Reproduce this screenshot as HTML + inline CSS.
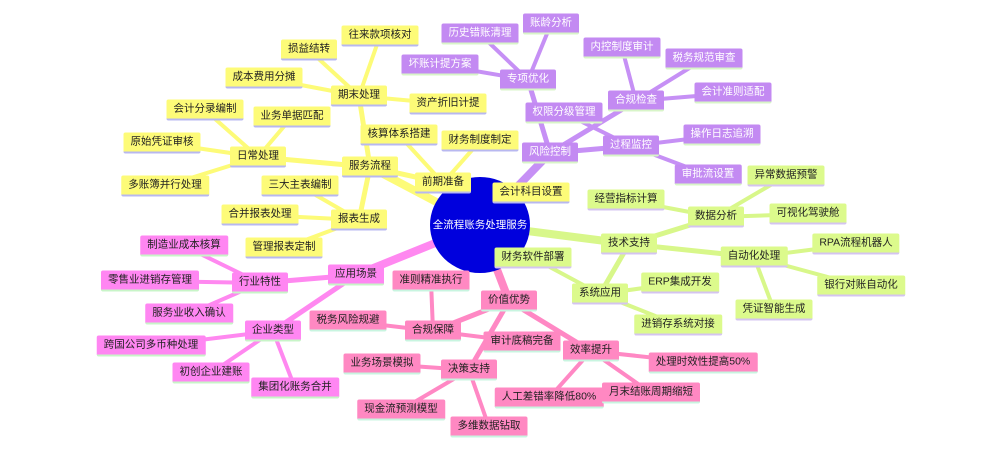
<!DOCTYPE html>
<html><head><meta charset="utf-8"><style>
body{margin:0;width:1000px;height:460px;background:#fff;position:relative;overflow:hidden;font-family:"Liberation Sans","Noto Sans CJK SC",sans-serif}
svg{position:absolute;left:0;top:0}
.n{position:absolute;transform:translate(-50%,-50%);font-size:10.5px;line-height:19px;padding:0 7px;white-space:nowrap;border-radius:2px}
.y{background:#fdfb78;color:#222;border-bottom:2px solid #b8b8f0}
.p{background:#c38af2;color:#fff;border-bottom:2px solid #d8f5c8}
.g{background:#dcfa8c;color:#222;border-bottom:2px solid #d4c4f0}
.m{background:#ff86f2;color:#222;border-bottom:2px solid #c8f5c8}
.k{background:#ff88c2;color:#222;border-bottom:2px solid #c8f5e0}
.c{position:absolute;left:430px;top:177px;width:100px;height:96px;border-radius:50%;background:#0000dd;color:#fff;font-size:10.5px;line-height:96px;text-align:center}
</style></head><body>
<svg width="1000" height="460" stroke-linecap="round">
<g stroke="#fdfb78">
<line x1="480" y1="225" x2="370" y2="167" stroke-width="8"/>
<line x1="370" y1="167" x2="443" y2="183" stroke-width="5"/>
<line x1="443" y1="183" x2="399" y2="135" stroke-width="4"/>
<line x1="443" y1="183" x2="480" y2="141" stroke-width="4"/>
<line x1="370" y1="167" x2="258" y2="157" stroke-width="5"/>
<line x1="370" y1="167" x2="359" y2="96" stroke-width="5"/>
<line x1="370" y1="167" x2="359" y2="220" stroke-width="5"/>
<line x1="258" y1="157" x2="205" y2="110" stroke-width="4"/>
<line x1="258" y1="157" x2="292" y2="117" stroke-width="4"/>
<line x1="258" y1="157" x2="162" y2="143" stroke-width="4"/>
<line x1="258" y1="157" x2="165" y2="186" stroke-width="4"/>
<line x1="359" y1="96" x2="309" y2="50" stroke-width="4"/>
<line x1="359" y1="96" x2="380" y2="36" stroke-width="4"/>
<line x1="359" y1="96" x2="264" y2="78" stroke-width="4"/>
<line x1="359" y1="96" x2="448" y2="104" stroke-width="4"/>
<line x1="359" y1="220" x2="300" y2="186" stroke-width="4"/>
<line x1="359" y1="220" x2="260" y2="215" stroke-width="4"/>
<line x1="359" y1="220" x2="284" y2="248" stroke-width="4"/>
</g>
<g stroke="#c690f5">
<line x1="480" y1="225" x2="550" y2="153" stroke-width="8"/>
<line x1="550" y1="153" x2="528" y2="80" stroke-width="5"/>
<line x1="550" y1="153" x2="636" y2="101" stroke-width="5"/>
<line x1="550" y1="153" x2="631" y2="146" stroke-width="5"/>
<line x1="631" y1="146" x2="564" y2="113" stroke-width="4"/>
<line x1="528" y1="80" x2="480" y2="34" stroke-width="4"/>
<line x1="528" y1="80" x2="551" y2="24" stroke-width="4"/>
<line x1="528" y1="80" x2="440" y2="65" stroke-width="4"/>
<line x1="636" y1="101" x2="622" y2="48" stroke-width="4"/>
<line x1="636" y1="101" x2="704" y2="59" stroke-width="4"/>
<line x1="636" y1="101" x2="733" y2="93" stroke-width="4"/>
<line x1="631" y1="146" x2="722" y2="135" stroke-width="4"/>
<line x1="631" y1="146" x2="708" y2="175" stroke-width="4"/>
</g>
<g stroke="#d8f78a">
<line x1="480" y1="225" x2="629" y2="244" stroke-width="8"/>
<line x1="629" y1="244" x2="716" y2="217" stroke-width="5"/>
<line x1="629" y1="244" x2="754" y2="257" stroke-width="5"/>
<line x1="629" y1="244" x2="600" y2="294" stroke-width="5"/>
<line x1="716" y1="217" x2="626" y2="200" stroke-width="4"/>
<line x1="716" y1="217" x2="786" y2="176" stroke-width="4"/>
<line x1="716" y1="217" x2="808" y2="214" stroke-width="4"/>
<line x1="754" y1="257" x2="856" y2="244" stroke-width="4"/>
<line x1="754" y1="257" x2="861" y2="286" stroke-width="4"/>
<line x1="754" y1="257" x2="774" y2="310" stroke-width="4"/>
<line x1="600" y1="294" x2="533" y2="258" stroke-width="4"/>
<line x1="600" y1="294" x2="680" y2="283" stroke-width="4"/>
<line x1="600" y1="294" x2="678" y2="325" stroke-width="4"/>
</g>
<g stroke="#ff88f0">
<line x1="480" y1="225" x2="356" y2="275" stroke-width="8"/>
<line x1="356" y1="275" x2="260" y2="283" stroke-width="5"/>
<line x1="356" y1="275" x2="273" y2="331" stroke-width="5"/>
<line x1="260" y1="283" x2="184" y2="246" stroke-width="4"/>
<line x1="260" y1="283" x2="150" y2="281" stroke-width="4"/>
<line x1="260" y1="283" x2="189" y2="314" stroke-width="4"/>
<line x1="273" y1="331" x2="151" y2="346" stroke-width="4"/>
<line x1="273" y1="331" x2="211" y2="373" stroke-width="4"/>
<line x1="273" y1="331" x2="295" y2="388" stroke-width="4"/>
</g>
<g stroke="#ff88c4">
<line x1="480" y1="225" x2="509" y2="301" stroke-width="8"/>
<line x1="509" y1="301" x2="433" y2="331" stroke-width="5"/>
<line x1="509" y1="301" x2="469" y2="370" stroke-width="5"/>
<line x1="509" y1="301" x2="591" y2="351" stroke-width="5"/>
<line x1="433" y1="331" x2="431" y2="281" stroke-width="4"/>
<line x1="433" y1="331" x2="348" y2="321" stroke-width="4"/>
<line x1="433" y1="331" x2="522" y2="342" stroke-width="4"/>
<line x1="469" y1="370" x2="382" y2="364" stroke-width="4"/>
<line x1="469" y1="370" x2="401" y2="410" stroke-width="4"/>
<line x1="469" y1="370" x2="489" y2="427" stroke-width="4"/>
<line x1="591" y1="351" x2="703" y2="363" stroke-width="4"/>
<line x1="591" y1="351" x2="549" y2="398" stroke-width="4"/>
<line x1="591" y1="351" x2="651" y2="393" stroke-width="4"/>
</g>
</svg>
<div class="c">全流程账务处理服务</div>

<div class="n y" style="left:370px;top:167px">服务流程</div>
<div class="n y" style="left:443px;top:183px">前期准备</div>
<div class="n y" style="left:399px;top:135px">核算体系搭建</div>
<div class="n y" style="left:480px;top:141px">财务制度制定</div>
<div class="n y" style="left:531px;top:193px">会计科目设置</div>
<div class="n y" style="left:258px;top:157px">日常处理</div>
<div class="n y" style="left:205px;top:110px">会计分录编制</div>
<div class="n y" style="left:292px;top:117px">业务单据匹配</div>
<div class="n y" style="left:162px;top:143px">原始凭证审核</div>
<div class="n y" style="left:165px;top:186px">多账簿并行处理</div>
<div class="n y" style="left:359px;top:96px">期末处理</div>
<div class="n y" style="left:309px;top:50px">损益结转</div>
<div class="n y" style="left:380px;top:36px">往来款项核对</div>
<div class="n y" style="left:264px;top:78px">成本费用分摊</div>
<div class="n y" style="left:448px;top:104px">资产折旧计提</div>
<div class="n y" style="left:359px;top:220px">报表生成</div>
<div class="n y" style="left:300px;top:186px">三大主表编制</div>
<div class="n y" style="left:260px;top:215px">合并报表处理</div>
<div class="n y" style="left:284px;top:248px">管理报表定制</div>

<div class="n p" style="left:550px;top:153px">风险控制</div>
<div class="n p" style="left:528px;top:80px">专项优化</div>
<div class="n p" style="left:480px;top:34px">历史错账清理</div>
<div class="n p" style="left:551px;top:24px">账龄分析</div>
<div class="n p" style="left:440px;top:65px">坏账计提方案</div>
<div class="n p" style="left:564px;top:113px">权限分级管理</div>
<div class="n p" style="left:636px;top:101px">合规检查</div>
<div class="n p" style="left:622px;top:48px">内控制度审计</div>
<div class="n p" style="left:704px;top:59px">税务规范审查</div>
<div class="n p" style="left:733px;top:93px">会计准则适配</div>
<div class="n p" style="left:631px;top:146px">过程监控</div>
<div class="n p" style="left:722px;top:135px">操作日志追溯</div>
<div class="n p" style="left:708px;top:175px">审批流设置</div>

<div class="n g" style="left:629px;top:244px">技术支持</div>
<div class="n g" style="left:716px;top:217px">数据分析</div>
<div class="n g" style="left:626px;top:200px">经营指标计算</div>
<div class="n g" style="left:786px;top:176px">异常数据预警</div>
<div class="n g" style="left:808px;top:214px">可视化驾驶舱</div>
<div class="n g" style="left:754px;top:257px">自动化处理</div>
<div class="n g" style="left:856px;top:244px">RPA流程机器人</div>
<div class="n g" style="left:861px;top:286px">银行对账自动化</div>
<div class="n g" style="left:774px;top:310px">凭证智能生成</div>
<div class="n g" style="left:600px;top:294px">系统应用</div>
<div class="n g" style="left:533px;top:258px">财务软件部署</div>
<div class="n g" style="left:680px;top:283px">ERP集成开发</div>
<div class="n g" style="left:678px;top:325px">进销存系统对接</div>

<div class="n m" style="left:356px;top:275px">应用场景</div>
<div class="n m" style="left:260px;top:283px">行业特性</div>
<div class="n m" style="left:184px;top:246px">制造业成本核算</div>
<div class="n m" style="left:150px;top:281px">零售业进销存管理</div>
<div class="n m" style="left:189px;top:314px">服务业收入确认</div>
<div class="n m" style="left:273px;top:331px">企业类型</div>
<div class="n m" style="left:151px;top:346px">跨国公司多币种处理</div>
<div class="n m" style="left:211px;top:373px">初创企业建账</div>
<div class="n m" style="left:295px;top:388px">集团化账务合并</div>

<div class="n k" style="left:509px;top:301px">价值优势</div>
<div class="n k" style="left:433px;top:331px">合规保障</div>
<div class="n k" style="left:431px;top:281px">准则精准执行</div>
<div class="n k" style="left:348px;top:321px">税务风险规避</div>
<div class="n k" style="left:522px;top:342px">审计底稿完备</div>
<div class="n k" style="left:469px;top:370px">决策支持</div>
<div class="n k" style="left:382px;top:364px">业务场景模拟</div>
<div class="n k" style="left:401px;top:410px">现金流预测模型</div>
<div class="n k" style="left:489px;top:427px">多维数据钻取</div>
<div class="n k" style="left:591px;top:351px">效率提升</div>
<div class="n k" style="left:703px;top:363px">处理时效性提高50%</div>
<div class="n k" style="left:549px;top:398px">人工差错率降低80%</div>
<div class="n k" style="left:651px;top:393px">月末结账周期缩短</div>
</body></html>
